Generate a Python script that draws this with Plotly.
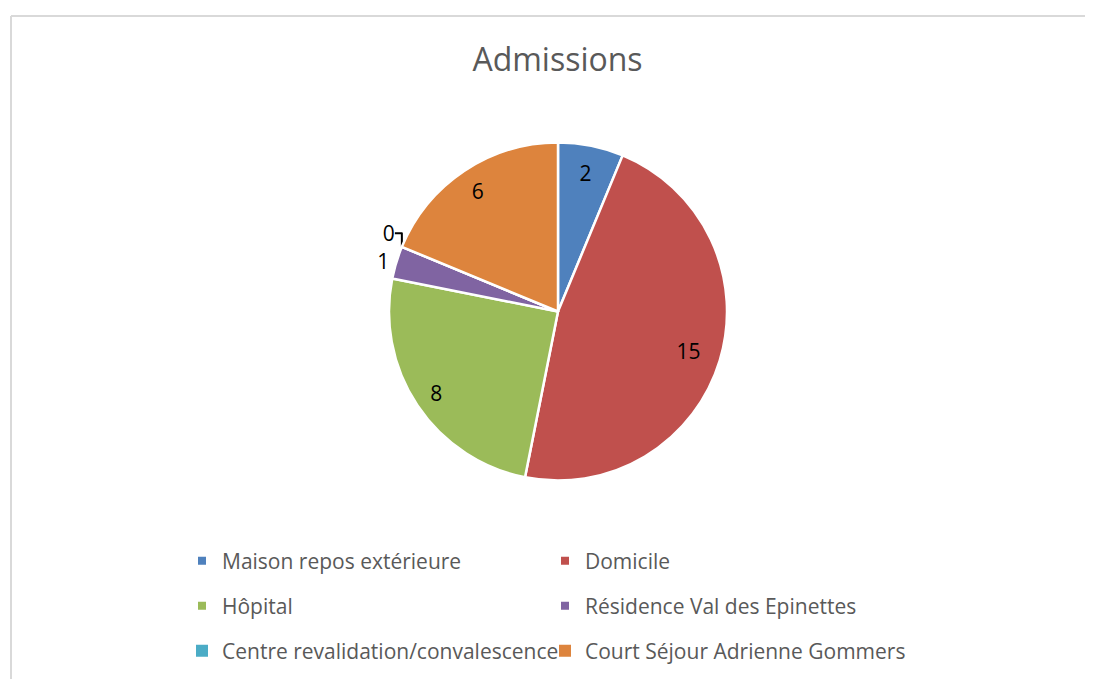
import plotly.graph_objects as go

categories = ["Maison repos extérieure", "Domicile", "Hôpital",
              "Résidence Val des Epinettes", "Centre revalidation/convalescence",
              "Court Séjour Adrienne Gommers"]
values = [2, 15, 8, 1, 0, 6]
colors = ["#4F81BD", "#C0504D", "#9BBB59", "#8064A2", "#4BACC6", "#DD843D"]
title_text = "Admissions"

# label placement: 0 -> label drawn by the main pie, otherwise radius (px) of a
# transparent helper pie whose inside label lands where the reference puts it
label_radius = [0, 272, 250, 0, 0, 225]
base_positions = ["inside", "inside", "inside", "outside", "outside", "inside"]
legend_marker_sizes = [8, 8, 8, 8, 12, 12]

OFF = 8  # page body margin
W, H = 1093 - OFF, 679 - OFF
FONT = "Open Sans, Carlito, Calibri, sans-serif"


def px(x):
    return (x - OFF) / W


def py(y):
    return 1 - (y - OFF) / H


cx, cy, r = 558, 311.5, 169
label_font = dict(family=FONT, size=21, color="black")

fig = go.Figure()
fig.add_trace(go.Pie(
    labels=categories, values=values, sort=False, direction="clockwise",
    rotation=0,
    marker=dict(colors=colors, line=dict(color="white", width=2.5)),
    text=[str(v) if lr == 0 else "" for v, lr in zip(values, label_radius)],
    textinfo="text", textposition=base_positions,
    insidetextorientation="horizontal",
    textfont=label_font,
    showlegend=False, hoverinfo="label+value",
    domain=dict(x=[px(cx - r), px(cx + r)], y=[py(cy + r), py(cy - r)]),
))
for rl in sorted(set(lr for lr in label_radius if lr)):
    fig.add_trace(go.Pie(
        labels=categories, values=values, sort=False, direction="clockwise",
        rotation=0,
        marker=dict(colors=["rgba(0,0,0,0)"] * len(values), line=dict(width=0)),
        text=[str(v) if lr == rl else "" for v, lr in zip(values, label_radius)],
        textinfo="text", textposition="inside",
        insidetextorientation="horizontal",
        textfont=label_font,
        showlegend=False, hoverinfo="skip",
        domain=dict(x=[px(cx - rl), px(cx + rl)], y=[py(cy + rl), py(cy - rl)]),
    ))

# legend entries (3 rows x 2 columns)
row_y = [561, 606, 651]
legend_names = ["legend", "legend2", "legend3"]
for i, (name, col) in enumerate(zip(categories, colors)):
    row = i // 2
    fig.add_trace(go.Scatter(
        x=[None], y=[None], mode="markers", name=name,
        marker=dict(symbol="square", size=legend_marker_sizes[i], color=col),
        legend=legend_names[row], showlegend=True,
    ))

leg_common = dict(orientation="h", xanchor="left", yanchor="middle",
                  font=dict(family=FONT, size=21, color="#595959"),
                  entrywidth=318, entrywidthmode="pixels", itemsizing="trace",
                  bgcolor="rgba(0,0,0,0)", itemclick=False, itemdoubleclick=False)
layout_legends = {}
for row, ln in enumerate(legend_names):
    layout_legends[ln] = dict(leg_common, x=px(182), y=py(row_y[row]))

frame = dict(color="#D9D9D9", width=2)
fig.update_layout(
    width=W, height=H,
    margin=dict(l=0, r=0, t=0, b=0),
    paper_bgcolor="white", plot_bgcolor="white",
    title=dict(text=title_text, x=px(557.5), xanchor="center",
               y=py(60), yanchor="middle",
               font=dict(family=FONT, size=32, color="#595959")),
    xaxis=dict(visible=False), yaxis=dict(visible=False),
    shapes=[
        dict(type="line", xref="paper", yref="paper",
             x0=px(11), y0=py(16), x1=1.0, y1=py(16), line=frame),
        dict(type="line", xref="paper", yref="paper",
             x0=px(11), y0=py(16), x1=px(11), y1=0.0, line=frame),
    ],
    **layout_legends,
)

fig.write_html("out.html")
